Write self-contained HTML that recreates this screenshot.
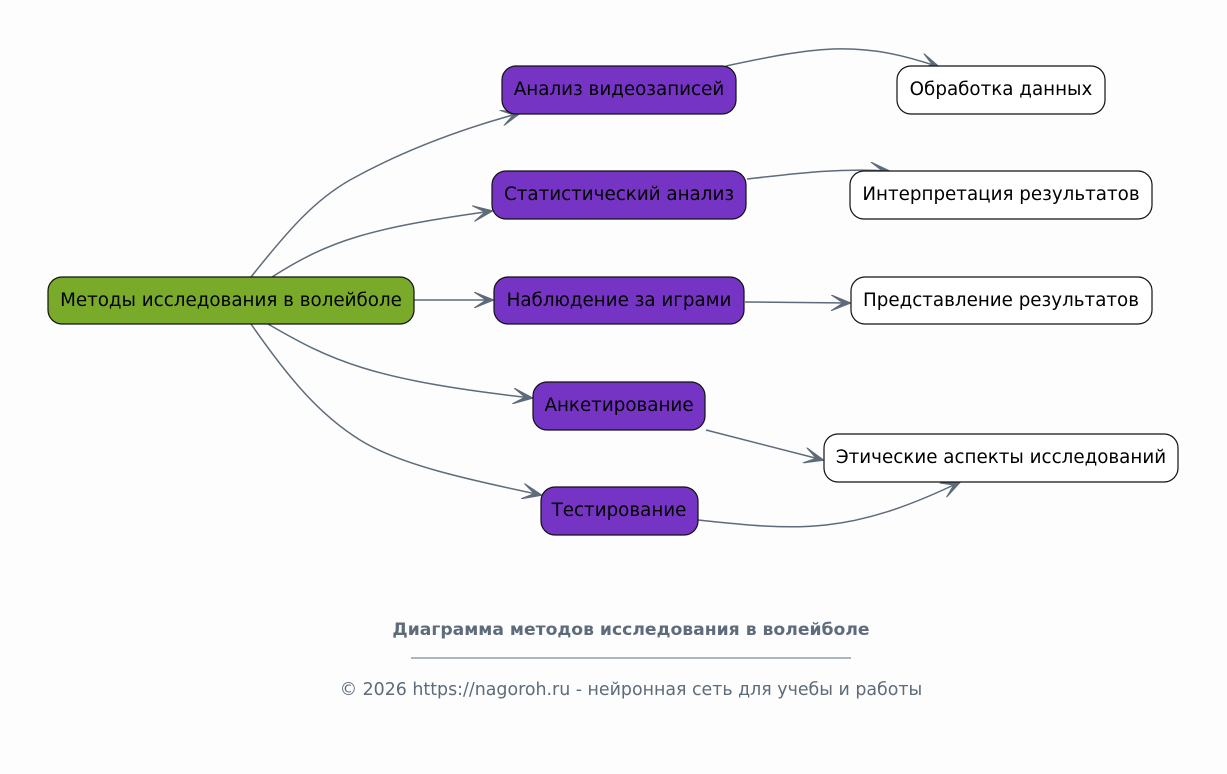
<!DOCTYPE html>
<html><head><meta charset="utf-8"><style>
html,body{margin:0;padding:0;background:#fdfdfd;}
svg{display:block;font-family:"DejaVu Sans","Liberation Sans",sans-serif;}
</style></head><body>
<svg width="1227" height="774" viewBox="0 0 1227 774" xmlns="http://www.w3.org/2000/svg">
<defs>
<marker id="a" viewBox="0 0 20 16" refX="19" refY="8" markerWidth="20" markerHeight="16" markerUnits="userSpaceOnUse" orient="auto">
<path d="M0,0 L20,8 L0,16 L12,8 z" fill="#5d6b7a" stroke="#5d6b7a" stroke-width="1" stroke-linejoin="round"/>
</marker>
</defs>
<rect width="1227" height="774" fill="#fdfdfd"/>
<g fill="none" stroke="#5d6b7a" stroke-width="1.5" marker-end="url(#a)">
<path d="M251,277 C290,228 315,200 350,180 C395,155 450,132 520,113"/>
<path d="M272,277 C330,240 370,228 492,211"/>
<path d="M414,300 L493,300"/>
<path d="M268,324 C330,360 370,380 532,398"/>
<path d="M251,324 C290,380 320,415 360,440 C400,465 470,480 541,495"/>
<path d="M726,66 C820,46 860,40 939,67"/>
<path d="M747,179 C800,173 840,168 889,171"/>
<path d="M745,302 L850,303"/>
<path d="M706,430 L823,460"/>
<path d="M698,520 C800,531 850,535 960,482"/>
</g>
<g stroke="#111" stroke-width="1.2">
<rect x="48" y="277" width="366" height="47" rx="14" fill="#79aa2a"/>
<rect x="502" y="66" width="234" height="48" rx="14" fill="#7634c4"/>
<rect x="492" y="171" width="254" height="48" rx="14" fill="#7634c4"/>
<rect x="494" y="277" width="250" height="47" rx="14" fill="#7634c4"/>
<rect x="533" y="382" width="172" height="48" rx="14" fill="#7634c4"/>
<rect x="541" y="487" width="157" height="48" rx="14" fill="#7634c4"/>
<rect x="897" y="66" width="208" height="48" rx="14" fill="#fff"/>
<rect x="850" y="171" width="302" height="48" rx="14" fill="#fff"/>
<rect x="851" y="277" width="301" height="47" rx="14" fill="#fff"/>
<rect x="824" y="434" width="354" height="48" rx="14" fill="#fff"/>
</g>
<g font-size="18.3" fill="#000" text-anchor="middle">
<text x="231" y="306">Методы исследования в волейболе</text>
<text x="619" y="95">Анализ видеозаписей</text>
<text x="619" y="200">Статистический анализ</text>
<text x="619" y="306">Наблюдение за играми</text>
<text x="619" y="411">Анкетирование</text>
<text x="619" y="516">Тестирование</text>
<text x="1001" y="95">Обработка данных</text>
<text x="1001" y="200">Интерпретация результатов</text>
<text x="1001" y="306">Представление результатов</text>
<text x="1001" y="463">Этические аспекты исследований</text>
</g>
<text x="631" y="635" font-size="17.2" font-weight="bold" fill="#5d6b7a" text-anchor="middle">Диаграмма методов исследования в волейболе</text>
<line x1="411" y1="658" x2="851" y2="658" stroke="#5d6b7a" stroke-width="1"/>
<text x="631" y="695" font-size="17.4" fill="#5d6b7a" text-anchor="middle">© 2026 https://nagoroh.ru - нейронная сеть для учебы и работы</text>
</svg>
</body></html>
